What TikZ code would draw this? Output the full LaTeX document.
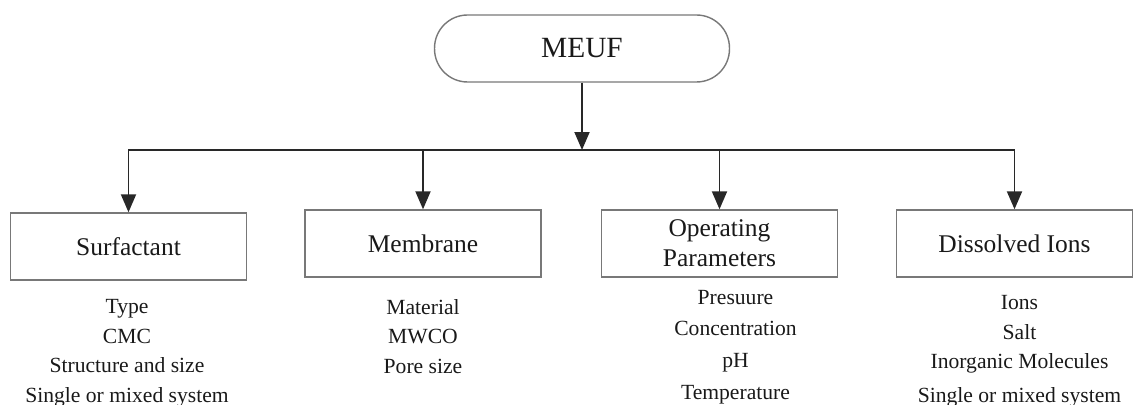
\documentclass[tikz,border=0pt]{standalone}
\usepackage{fontspec}
\setmainfont{Liberation Serif}
\usetikzlibrary{arrows.meta, positioning}
\definecolor{boxgray}{RGB}{120, 120, 120}
\definecolor{linedark}{RGB}{40, 40, 40}
\definecolor{textdark}{RGB}{25, 25, 25}

\begin{document}
\begin{tikzpicture}[x=0.02cm, y=-0.02cm,
    factor/.style={draw=boxgray, line width=0.8pt, minimum width=4.72cm, minimum height=1.34cm,
      align=center, text=textdark, font=\fontsize{14.5}{17}\selectfont},
    items/.style={align=center, inner sep=0pt, text=textdark, font=\fontsize{12.3}{17}\selectfont},
    arr/.style={draw=linedark, line width=1.1pt, -{Triangle[length=0.36cm, width=0.3cm]}}]
  \useasboundingbox (0,0) rectangle (1139,405);

  % Top node
  \node[draw=boxgray, line width=0.8pt, rounded corners=0.66cm, minimum width=5.9cm, minimum height=1.34cm,
    text=textdark, font=\fontsize{16.7}{20}\selectfont] (meuf) at (582, 48.5) {MEUF};

  % Factor boxes
  \node[factor] (surf) at (128.5, 246.5) {Surfactant};
  \node[factor] (memb) at (423, 243.5) {Membrane};
  \node[factor] (oper) at (719.5, 243.5) {Operating\\Parameters};
  \node[factor] (diss) at (1014.5, 243.5) {Dissolved Ions};

  % Connectors
  \coordinate (bus) at (582, 150);
  \draw[arr] (meuf.south) -- (bus);
  \draw[arr] (bus) -| (surf.north);
  \draw[arr] (bus) -| (diss.north);
  \foreach \n in {memb, oper}
    \draw[arr] (\n.north |- bus) -- (\n.north);

  % Lists below the boxes
  \node[items, below=0.36cm of surf, xshift=-0.03cm] (surflist)
    {Type\\CMC\\Structure and size\\Single or mixed system};
  \node[items, below=0.42cm of memb] (memblist)
    {Material\\MWCO\\Pore size};
  \node[items, below=0.24cm of oper, xshift=0.32cm, font=\fontsize{12.3}{18}\selectfont] (operlist)
    {Presuure\\Concentration\\pH\\Temperature};
  \node[items, below=0.34cm of diss, xshift=0.1cm] (disslist)
    {Ions\\Salt\\Inorganic Molecules\\[2pt]Single or mixed system};
\end{tikzpicture}
\end{document}
